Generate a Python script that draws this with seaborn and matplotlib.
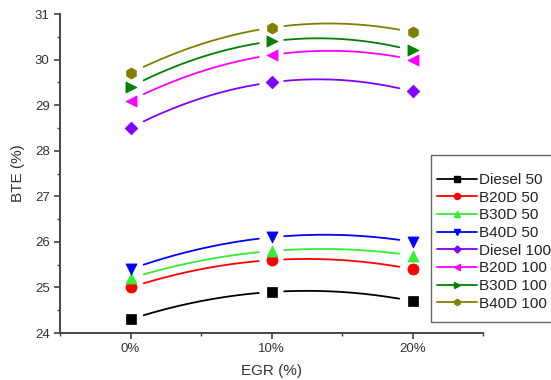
import numpy as np
import matplotlib
matplotlib.use('Agg')
import matplotlib.pyplot as plt
from matplotlib.lines import Line2D
from matplotlib.patches import Rectangle
from matplotlib.ticker import MultipleLocator
import seaborn as sns

# Données
egr = [0, 10, 20]
egr_labels = ['0%', '10%', '20%']
series_names = ['Diesel 50', 'B20D 50', 'B30D 50', 'B40D 50',
                'Diesel 100', 'B20D 100', 'B30D 100', 'B40D 100']
diesel_50 = [24.3, 24.9, 24.7]
b20d_50 = [25.0, 25.6, 25.4]
b30d_50 = [25.2, 25.8, 25.7]
b40d_50 = [25.4, 26.1, 26.0]
diesel_100 = [28.5, 29.5, 29.3]
b20d_100 = [29.1, 30.1, 30.0]
b30d_100 = [29.4, 30.4, 30.2]
b40d_100 = [29.7, 30.7, 30.6]
all_values = [diesel_50, b20d_50, b30d_50, b40d_50,
              diesel_100, b20d_100, b30d_100, b40d_100]

colors = ['#000000', '#ff0000', '#33ee33', '#0000ff',
          '#8000ff', '#ff00ff', '#008000', '#808000']
markers = ['s', 'o', '^', 'v', 'D', '<', '>', 'h']
msizes = [7, 8, 8, 8, 6.5, 8, 8, 8]

sns.set_style('ticks')
plt.rcParams['font.family'] = ['Liberation Sans', 'DejaVu Sans']

W, H = 551, 380
fig = plt.figure(figsize=(W / 100, H / 100), dpi=100)
ax = fig.add_axes([60 / W, 47 / H, 423 / W, 319 / H])

handles = []
for name, vals, c, m, ms in zip(series_names, all_values, colors, markers, msizes):
    # courbe lissée (quadratique passant par les 3 points), avec un petit écart autour des symboles
    coef = np.polyfit(egr, vals, 2)
    xs = np.linspace(egr[0], egr[-1], 300)
    ys = np.polyval(coef, xs)
    gap = 0.9
    mask = np.ones_like(xs, dtype=bool)
    for xv in egr:
        mask &= np.abs(xs - xv) > gap
    ys_masked = np.where(mask, ys, np.nan)
    ax.plot(xs, ys_masked, color=c, lw=1.3)
    sns.scatterplot(x=egr, y=vals, ax=ax, color=c, marker=m, s=ms ** 2,
                    edgecolor=c, linewidth=0.5, zorder=3, legend=False)
    handles.append(Line2D([0], [0], color=c, lw=1.3, marker=m, markersize=ms * 0.55,
                          markeredgecolor=c, label=name))

ax.set_xlim(-5, 25)
ax.set_ylim(24, 31)
ax.set_xticks(egr)
ax.set_xticklabels(egr_labels)
ax.xaxis.set_minor_locator(MultipleLocator(5))
ax.yaxis.set_major_locator(MultipleLocator(1))
ax.yaxis.set_minor_locator(MultipleLocator(0.5))

for s in ['top', 'right']:
    ax.spines[s].set_visible(False)
for s in ['left', 'bottom']:
    ax.spines[s].set_color('#444444')
    ax.spines[s].set_linewidth(1.4)
ax.tick_params(which='major', length=4, width=1.2, color='#444444', labelsize=9.5,
               labelcolor='#333333')
ax.tick_params(which='minor', length=2.5, width=1.0, color='#444444')

ax.set_xlabel('EGR (%)', fontsize=11, color='#333333', labelpad=6)
ax.set_ylabel('BTE (%)', fontsize=11, color='#333333', labelpad=7)

# cadre de la légende (dépasse à droite comme sur l'original)
fig.patches.append(Rectangle((431 / W, 1 - 322 / H), 140 / W, 167 / H,
                             transform=fig.transFigure, fill=True, facecolor='white',
                             edgecolor='#666666', lw=1.0, zorder=5))

leg = fig.legend(handles=handles, loc='upper left', bbox_to_anchor=(437 / W, 1 - 173 / H),
                 fontsize=11, frameon=False,
                 handlelength=2.6, handletextpad=0.15, labelspacing=0.24, borderpad=0,
                 borderaxespad=0)
leg.set_zorder(6)
for t in leg.get_texts():
    t.set_color('#222222')

fig.savefig('out.png', dpi=100)
plt.close(fig)
